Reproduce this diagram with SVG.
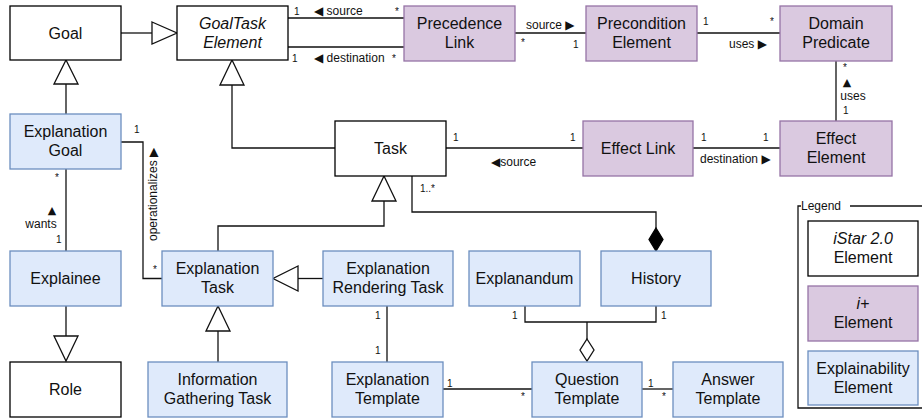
<svg xmlns="http://www.w3.org/2000/svg" width="922" height="420" viewBox="0 0 922 420">
<defs>
<style>
.w{fill:#fff;stroke:#000;stroke-width:1.3}
.p{fill:#dac9e0;stroke:#9673a6;stroke-width:1.3}
.b{fill:#dfeafb;stroke:#6c8ebf;stroke-width:1.3}
text{font-family:"Liberation Sans",Arial,"DejaVu Sans",sans-serif;fill:#111}
.n{font-size:16px;text-anchor:middle}
.i{font-style:italic}
.l{font-size:12px}
.m{font-size:10px}
.g{font-family:"DejaVu Sans",sans-serif;font-size:11px;text-anchor:middle}
.c{fill:none;stroke:#111;stroke-width:1.3}
.t{fill:#fff;stroke:#111;stroke-width:1.3}
.f{fill:#000;stroke:#000;stroke-width:1.3}
</style>
</defs>
<rect width="922" height="420" fill="#fff"/>
<g id="connectors">
<path class="c" d="M121,33H152"/><polygon class="t" points="152,22 177,33 152,44"/>
<path class="c" d="M66,114V84"/><polygon class="t" points="54,84 66,60 78,84"/>
<path class="c" d="M66,306V336"/><polygon class="t" points="54,336 66,361 78,336"/>
<path class="c" d="M335,148H232V85"/><polygon class="t" points="220,85 232,60 244,85"/>
<path class="c" d="M218,251V226H384V201"/><polygon class="t" points="372,201 384,176 396,201"/>
<path class="c" d="M323,278.5H298"/><polygon class="t" points="298,266 273,278.5 298,291"/>
<path class="c" d="M218,362V331"/><polygon class="t" points="206,331 218,306 230,331"/>
<path class="c" d="M412,176V212H656V228"/><polygon class="f" points="656,228 663,239.5 656,251 649,239.5"/>
<path class="c" d="M525,306V322H656V306M587,322V339"/><polygon class="t" points="587,339 594,350 587,361 580,350"/>
<path class="c" d="M121,142H143V278.5H162"/>
<path class="c" d="M66,169V251"/>
<path class="c" d="M288,18H404M288,47H404"/>
<path class="c" d="M515,33H586"/>
<path class="c" d="M697,33H780"/>
<path class="c" d="M836,61V121"/>
<path class="c" d="M446,148H583"/>
<path class="c" d="M693,148H780"/>
<path class="c" d="M387,306V362"/>
<path class="c" d="M443,389H532"/>
<path class="c" d="M642,389H673"/>
<text class="m" x="294" y="15">1</text>
<text class="l" x="314" y="15">◀ source</text>
<text class="m" x="395" y="15">*</text>
<text class="m" x="292" y="62">1</text>
<text class="l" x="314" y="62">◀ destination</text>
<text class="m" x="392" y="62">*</text>
<text class="l" x="526" y="29">source ▶</text>
<text class="m" x="521" y="46">*</text>
<text class="m" x="573" y="48">1</text>
<text class="m" x="703" y="25">1</text>
<text class="m" x="770" y="25">*</text>
<text class="l" x="729" y="48">uses ▶</text>
<text class="m" x="843" y="71">*</text>
<text class="g" x="847" y="86">▲</text>
<text class="l" x="853" y="100" text-anchor="middle">uses</text>
<text class="m" x="843" y="114">1</text>
<text class="m" x="701" y="141">1</text>
<text class="m" x="763" y="141">1</text>
<text class="l" x="700" y="163">destination ▶</text>
<text class="m" x="453" y="141">1</text>
<text class="m" x="570" y="141">1</text>
<text class="l" x="491" y="166">◀source</text>
<text class="m" x="420" y="192">1..*</text>
<text class="m" x="134" y="133">1</text>
<text class="m" x="153" y="273">*</text>
<text class="l" transform="translate(157,241) rotate(-90)">operationalizes ▶</text>
<text class="m" x="55" y="181">*</text>
<text class="g" x="52" y="214">▲</text>
<text class="l" x="41" y="228" text-anchor="middle">wants</text>
<text class="m" x="56" y="243">1</text>
<text class="m" x="375" y="319">1</text>
<text class="m" x="375" y="354">1</text>
<text class="m" x="447" y="387">1</text>
<text class="m" x="521" y="400">*</text>
<text class="m" x="648" y="387">1</text>
<text class="m" x="662" y="400">*</text>
<text class="m" x="512" y="319">1</text>
<text class="m" x="661" y="319">1</text>
</g>
<g id="goal"><rect class="w" x="10" y="6" width="111" height="54"/><text class="n" x="65.5" y="39">Goal</text></g>
<g id="goaltask"><rect class="w" x="177" y="6" width="111" height="54"/><text class="n i" x="232.5" y="29">GoalTask</text><text class="n i" x="232.5" y="48">Element</text></g>
<g id="precedence"><rect class="p" x="404" y="6" width="111" height="55"/><text class="n" x="459.5" y="29">Precedence</text><text class="n" x="459.5" y="48">Link</text></g>
<g id="precondition"><rect class="p" x="586" y="6" width="111" height="55"/><text class="n" x="641.5" y="29">Precondition</text><text class="n" x="641.5" y="48">Element</text></g>
<g id="domain"><rect class="p" x="780" y="6" width="112" height="55"/><text class="n" x="836" y="29">Domain</text><text class="n" x="836" y="48">Predicate</text></g>
<g id="explgoal"><rect class="b" x="10" y="114" width="111" height="55"/><text class="n" x="65.5" y="137">Explanation</text><text class="n" x="65.5" y="156">Goal</text></g>
<g id="task"><rect class="w" x="335" y="121" width="111" height="55"/><text class="n" x="390.5" y="154">Task</text></g>
<g id="effectlink"><rect class="p" x="583" y="121" width="110" height="55"/><text class="n" x="638" y="154">Effect Link</text></g>
<g id="effectelement"><rect class="p" x="780" y="121" width="112" height="55"/><text class="n" x="836" y="144">Effect</text><text class="n" x="836" y="163">Element</text></g>
<g id="explainee"><rect class="b" x="10" y="251" width="111" height="55"/><text class="n" x="65.5" y="284">Explainee</text></g>
<g id="expltask"><rect class="b" x="162" y="251" width="111" height="55"/><text class="n" x="217.5" y="274">Explanation</text><text class="n" x="217.5" y="293">Task</text></g>
<g id="renderingtask"><rect class="b" x="323" y="251" width="130" height="55"/><text class="n" x="388" y="274">Explanation</text><text class="n" x="388" y="293">Rendering Task</text></g>
<g id="explanandum"><rect class="b" x="469" y="251" width="111" height="55"/><text class="n" x="524.5" y="284">Explanandum</text></g>
<g id="history"><rect class="b" x="601" y="251" width="110" height="55"/><text class="n" x="656" y="284">History</text></g>
<g id="role"><rect class="w" x="10" y="362" width="111" height="55"/><text class="n" x="65.5" y="395">Role</text></g>
<g id="infogathering"><rect class="b" x="148" y="362" width="139" height="55"/><text class="n" x="217.5" y="385">Information</text><text class="n" x="217.5" y="404">Gathering Task</text></g>
<g id="expltemplate"><rect class="b" x="332" y="362" width="111" height="55"/><text class="n" x="387.5" y="385">Explanation</text><text class="n" x="387.5" y="404">Template</text></g>
<g id="questiontemplate"><rect class="b" x="532" y="362" width="110" height="55"/><text class="n" x="587" y="385">Question</text><text class="n" x="587" y="404">Template</text></g>
<g id="answertemplate"><rect class="b" x="673" y="362" width="110" height="55"/><text class="n" x="728" y="385">Answer</text><text class="n" x="728" y="404">Template</text></g>
<g id="legend">
<path class="c" d="M801,206H798V408H922M850,206H922"/>
<text class="l" x="801" y="210">Legend</text>
<rect class="w" x="808" y="221" width="110" height="55"/><text class="n i" x="863" y="244">iStar 2.0</text><text class="n" x="863" y="263">Element</text>
<rect class="p" x="808" y="286" width="110" height="55"/><text class="n i" x="863" y="309">i+</text><text class="n" x="863" y="328">Element</text>
<rect class="b" x="808" y="351" width="110" height="54"/><text class="n" x="863" y="374">Explainability</text><text class="n" x="863" y="393">Element</text>
</g>
</svg>
